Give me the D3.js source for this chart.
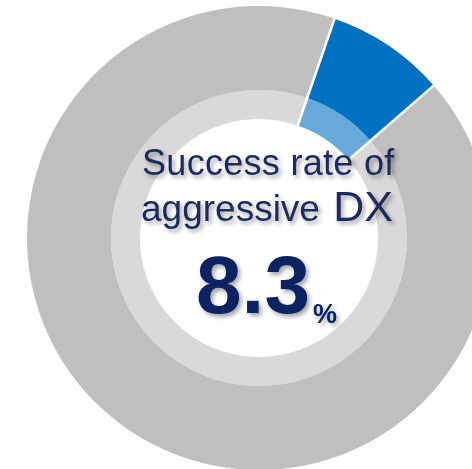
<!DOCTYPE html>
<html>
<head>
<meta charset="utf-8">
<script src="https://cdn.jsdelivr.net/npm/d3@7"></script>
<style>
  html, body { margin: 0; padding: 0; background: #ffffff; }
  svg { display: block; }
</style>
</head>
<body>
<svg id="chart" width="472" height="469"></svg>
<script>
// Share of companies succeeding with aggressive DX
const categories = ["Success", "Other"];
const values = [8.3, 91.7];
const outerColors = ["#0070c0", "#bfbfbf"];
const innerColors = ["#67a9d9", "#d9d9d9"];
const titleLines = ["Success rate of", "aggressive"];
const titleAccent = "DX";
const valueLabel = "8.3";
const unitLabel = "%";

const svg = d3.select("#chart");
const cx = 259, cy = 238;
const rOuter = 232, rMid = 148, rInner = 119;

const defs = svg.append("defs");
const shadow = defs.append("filter").attr("id", "txtShadow")
  .attr("x", "-20%").attr("y", "-20%").attr("width", "140%").attr("height", "140%");
shadow.append("feDropShadow")
  .attr("dx", 2.5).attr("dy", 3).attr("stdDeviation", 2.2)
  .attr("flood-color", "#000").attr("flood-opacity", 0.35);

const startA = 19 * Math.PI / 180;
const pie = d3.pie().sort(null).value(d => d.v)
  .startAngle(startA).endAngle(startA + 2 * Math.PI);
const data = categories.map((c, i) => ({ c, v: values[i], i }));
const arcsData = pie(data);

const g = svg.append("g").attr("transform", `translate(${cx},${cy})`);

const outerArc = d3.arc().innerRadius(rMid).outerRadius(rOuter);
const innerArc = d3.arc().innerRadius(rInner).outerRadius(rMid);

g.selectAll("path.inner").data(arcsData).join("path")
  .attr("class", "inner")
  .attr("d", innerArc)
  .attr("fill", d => innerColors[d.data.i]);

g.selectAll("path.outer").data(arcsData).join("path")
  .attr("class", "outer")
  .attr("d", outerArc)
  .attr("fill", d => outerColors[d.data.i]);

// white separators on slice boundaries
g.selectAll("line.sep").data(arcsData).join("line")
  .attr("class", "sep")
  .attr("x1", d => rInner * Math.sin(d.startAngle))
  .attr("y1", d => -rInner * Math.cos(d.startAngle))
  .attr("x2", d => (rOuter + 2) * Math.sin(d.startAngle))
  .attr("y2", d => -(rOuter + 2) * Math.cos(d.startAngle))
  .attr("stroke", "#ffffff").attr("stroke-width", 2.5);

// centre label
const txt = svg.append("g").attr("filter", "url(#txtShadow)");
const navy = "#1d2a5d";

txt.append("text")
  .attr("x", 142).attr("y", 175)
  .attr("font-family", "Liberation Sans, Arial, sans-serif")
  .attr("font-size", 36).attr("letter-spacing", 0.3)
  .attr("fill", navy)
  .text(titleLines[0]);

const l2 = txt.append("text")
  .attr("x", 141).attr("y", 221)
  .attr("font-family", "Liberation Sans, Arial, sans-serif")
  .attr("fill", navy);
l2.append("tspan").attr("font-size", 37).text(titleLines[1] + " ");
l2.append("tspan").attr("font-size", 43).attr("dx", 3).text(titleAccent);

const l3 = txt.append("text")
  .attr("x", 196).attr("y", 313)
  .attr("font-family", "Liberation Sans, Arial, sans-serif")
  .attr("font-weight", "bold")
  .attr("fill", "#0a2261");
l3.append("tspan").attr("font-size", 82).text(valueLabel);
l3.append("tspan").attr("font-size", 27).attr("dx", 3).attr("dy", 10).text(unitLabel);
</script>
</body>
</html>
